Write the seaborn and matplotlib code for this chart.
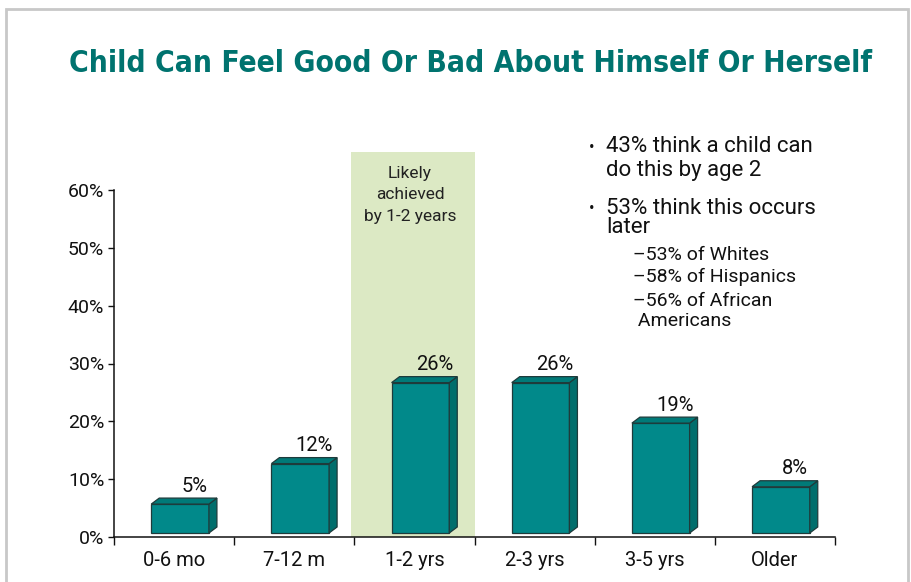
import matplotlib
matplotlib.use("Agg")
import matplotlib.pyplot as plt
import matplotlib.transforms as mtransforms
from matplotlib.patches import Polygon, Rectangle
import seaborn as sns
import pandas as pd

categories = ["0-6 mo", "7-12 m", "1-2 yrs", "2-3 yrs", "3-5 yrs", "Older"]
values = [5, 12, 26, 26, 19, 8]
value_labels = ["5%", "12%", "26%", "26%", "19%", "8%"]
yticks = [0, 10, 20, 30, 40, 50, 60]
ytick_labels = ["0%", "10%", "20%", "30%", "40%", "50%", "60%"]
title = "Child Can Feel Good Or Bad About Himself Or Herself"
band_label = ["Likely", "achieved", "by 1-2 years"]
notes_main = [("•", "43% think a child can"), ("", "do this by age 2"),
              ("•", "53% think this occurs"), ("", "later")]
notes_sub = ["–53% of Whites", "–58% of Hispanics", "–56% of African", " Americans"]

W, H, DPI = 911, 582, 100
FRONT = "#01898A"
SIDE = "#006E6C"
TOP = "#007A78"
EDGE = "#1E3B3B"
TEAL_TITLE = "#00736F"
BAND = "#DCE9C4"

sns.set_theme(style="white")
plt.rcParams["font.family"] = ["Roboto", "DejaVu Sans"]

fig = plt.figure(figsize=(W / DPI, H / DPI), dpi=DPI)
ax = fig.add_axes([114 / W, 1 - 537 / H, (835 - 114) / W, (537 - 190) / H])

df = pd.DataFrame({"cat": categories, "val": values})
shift = mtransforms.offset_copy(ax.transData, fig=fig, x=6, y=4, units="dots")

sns.barplot(data=df, x="cat", y="val", color=FRONT, saturation=1, width=0.48,
            edgecolor=EDGE, linewidth=0.9, ax=ax, zorder=3)
ax.set_xlim(-0.5, 5.5)
ax.set_ylim(0, 60)

# pixels per data unit
px_x = (835 - 114) / 6.0
px_y = (537 - 190) / 60.0
dx = 8 / px_x
dy = 6 / px_y

for p, lab in zip(ax.patches, value_labels):
    p.set_transform(shift)
    p.set_facecolor(FRONT)
    x0, w, h = p.get_x(), p.get_width(), p.get_height()
    side = Polygon([(x0 + w, 0), (x0 + w + dx, dy), (x0 + w + dx, h + dy), (x0 + w, h)],
                   closed=True, facecolor=SIDE, edgecolor=EDGE, linewidth=0.9,
                   transform=shift, zorder=3)
    top = Polygon([(x0, h), (x0 + dx, h + dy), (x0 + w + dx, h + dy), (x0 + w, h)],
                  closed=True, facecolor=TOP, edgecolor=EDGE, linewidth=0.9,
                  transform=shift, zorder=3)
    ax.add_patch(side)
    ax.add_patch(top)
    ax.annotate(lab, xy=(x0 + w / 2, h + dy), xycoords=shift,
                xytext=(14, 12), textcoords="offset pixels", ha="center", va="center",
                fontsize=14.5, color="#111111")

# highlight band
band = Rectangle((1.47, 0), 1.03, 66.6, facecolor=BAND, edgecolor="none",
                 zorder=0, clip_on=False, transform=ax.transData)
ax.add_patch(band)
for i, t in enumerate(band_label):
    fig.text(410 / W, 1 - (173 + 21.5 * i) / H, t, ha="center", va="center",
             fontsize=12.5, color="#222222")

# axes styling
sns.despine(ax=ax, top=True, right=True)
ax.spines["left"].set_bounds(0, 60)
for s in ["left", "bottom"]:
    ax.spines[s].set_color("#111111")
    ax.spines[s].set_linewidth(1.1)
ax.set_yticks(yticks)
ax.set_yticklabels(ytick_labels, fontsize=14, color="#111111")
ax.set_xticks(range(len(categories)))
ax.set_xticklabels(categories, fontsize=14.5, color="#111111")
ax.set_xticks([i - 0.5 for i in range(len(categories) + 1)], minor=True)
ax.tick_params(axis="x", which="major", length=0, pad=10)
ax.tick_params(axis="x", which="minor", length=6, width=1, color="#111111", direction="out", bottom=True)
ax.tick_params(axis="y", length=4, width=1, color="#111111", direction="out", left=True, pad=3)
ax.set_xlabel("")
ax.set_ylabel("")
ax.set_facecolor("none")

# title
fig.text(471 / W, 1 - 63 / H, title, ha="center", va="center", fontsize=21.5,
         fontweight="bold", fontstretch="condensed", color=TEAL_TITLE,
         family=["DejaVu Sans"])

# notes
main_y = [147, 170, 208, 228]
for (b, t), y in zip(notes_main, main_y):
    if b:
        fig.text(592 / W, 1 - y / H, b, ha="center", va="center", fontsize=12, color="#111111")
    fig.text(606 / W, 1 - y / H, t, ha="left", va="center", fontsize=16, color="#111111")
sub_y = [255, 277, 301, 321]
for t, y in zip(notes_sub, sub_y):
    fig.text(633 / W, 1 - y / H, t, ha="left", va="center", fontsize=14, color="#111111")

# outer frame
fig.patches.append(Rectangle((6 / W, -0.1), (908 - 6) / W, 1.1 - 9 / H, transform=fig.transFigure,
                             fill=False, edgecolor="#C8C8C8", linewidth=2))

fig.savefig("out.png", dpi=DPI)
